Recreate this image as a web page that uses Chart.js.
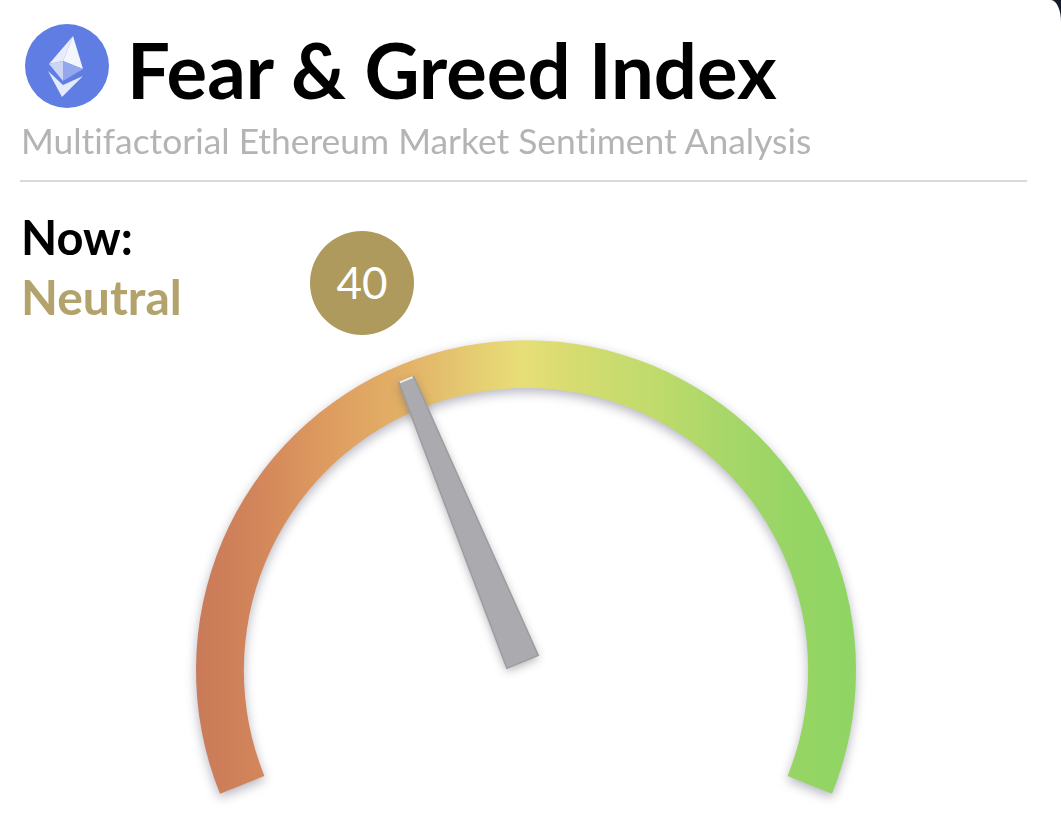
<!DOCTYPE html>
<html>
<head>
<meta charset="utf-8">
<title>Fear & Greed Index</title>
<script src="https://cdn.jsdelivr.net/npm/chart.js@4"></script>
<style>
    html, body { margin: 0; padding: 0; background: #141c2b; }
    body { width: 1061px; height: 818px; overflow: hidden; }
    .panel { position: relative; width: 1061px; height: 818px; background: #fff; border-top-right-radius: 10px 22px; font-family: Lato, sans-serif; font-variant-ligatures: none; overflow: hidden; filter: blur(0.5px); }
    .panel div { position: absolute; white-space: nowrap; }
    .icon { position: absolute; left: 25px; top: 24px; }
    .title { left: 127px; top: 25px; font-size: 76px; font-weight: 700; line-height: 90px; color: #000; }
    .subtitle { left: 21px; top: 120px; font-size: 35.4px; line-height: 42px; color: #b4b4b4; }
    .rule { left: 20px; top: 180px; width: 1007px; height: 2px; background: #d9d9d9; }
    .now { left: 21px; top: 212px; font-size: 47px; font-weight: 700; line-height: 50px; color: #000; }
    .status { left: 21px; top: 272px; font-size: 48px; font-weight: 700; line-height: 50px; color: #b2a26c; }
    .badge { left: 310px; top: 231px; width: 104px; height: 104px; border-radius: 50%; background: #ad9a5c; color: #fff; font-size: 44px; line-height: 102px; text-align: center; }
    canvas { position: absolute; left: 0; top: 0; }
</style>
</head>
<body>
<div class="panel">
    <canvas id="gauge" width="1061" height="818"></canvas>
    <svg class="icon" width="84" height="84" viewBox="0 0 84 84">
        <circle cx="42" cy="42" r="42" fill="#5f7de3"/>
        <polygon points="48,12 24,40 38,37" fill="#e8ecfb"/>
        <polygon points="48,12 38,37 58,45" fill="#f4f6fe"/>
        <polygon points="24,40 38,37 38,57" fill="#cbd5f6"/>
        <polygon points="38,37 58,45 38,57" fill="#93a7ec"/>
        <polygon points="23,47 38,61 58,52 37,73" fill="#e6ebfb"/>
    </svg>
    <div class="title" id="title"></div>
    <div class="subtitle" id="subtitle"></div>
    <div class="rule"></div>
    <div class="now" id="now"></div>
    <div class="status" id="status"></div>
    <div class="badge" id="badge"></div>
</div>
<script>
    // Chart values and texts
    const titleText = "Fear & Greed Index";
    const subtitleText = "Multifactorial Ethereum Market Sentiment Analysis";
    const nowLabel = "Now:";
    const statusLabel = "Neutral";
    const indexValue = 40;
    const indexMax = 100;
    const gaugeLabels = ["Fear to Greed"];
    const gaugeValues = [100];

    // Colours across the gauge, left to right
    const gaugeStops = [0, 0.08, 0.2, 0.31, 0.39, 0.49, 0.58, 0.7, 0.8, 0.9, 1];
    const gaugeColors = ["#c97a58", "#d1835a", "#de9c60", "#e2b066", "#e4c46f", "#e8de78", "#d4dc70", "#bfdb6c", "#a8d768", "#97d565", "#8fd564"];

    const gaugeRotation = -112;
    const gaugeSweep = 224;

    document.getElementById("title").textContent = titleText;
    document.getElementById("subtitle").textContent = subtitleText;
    document.getElementById("now").textContent = nowLabel;
    document.getElementById("status").textContent = statusLabel;
    document.getElementById("badge").textContent = indexValue;

    // Horizontal gradient over the width of the chart area
    function gaugeGradient(context) {
        const area = context.chart.chartArea;
        if (!area) {
            return gaugeColors[0];
        }
        const gradient = context.chart.ctx.createLinearGradient(area.left, 0, area.right, 0);
        gaugeStops.forEach(function(stop, i) {
            gradient.addColorStop(stop, gaugeColors[i]);
        });
        return gradient;
    }

    // Soft shadow under the arc
    const arcShadow = {
        id: "arcShadow",
        beforeDatasetDraw: function(chart) {
            chart.ctx.save();
            chart.ctx.shadowColor = "rgba(70, 70, 100, 0.4)";
            chart.ctx.shadowBlur = 11;
            chart.ctx.shadowOffsetY = 4;
        },
        afterDatasetDraw: function(chart) {
            chart.ctx.restore();
        }
    };

    // Needle angle comes from the arc and the index value
    const needle = {
        id: "needle",
        afterDatasetsDraw: function(chart) {
            const arc = chart.getDatasetMeta(0).data[0];
            const ctx = chart.ctx;
            const tip = arc.innerRadius + 32;
            ctx.save();
            ctx.translate(arc.x, arc.y);
            ctx.rotate(arc.startAngle + (arc.endAngle - arc.startAngle) * indexValue / indexMax);
            ctx.beginPath();
            ctx.moveTo(9, -17);
            ctx.lineTo(tip, -8);
            ctx.lineTo(tip, 8);
            ctx.lineTo(9, 17);
            ctx.closePath();
            ctx.shadowColor = "rgba(60, 60, 70, 0.4)";
            ctx.shadowBlur = 10;
            ctx.shadowOffsetY = 3;
            ctx.fillStyle = "#aaaaaf";
            ctx.fill();
            ctx.shadowColor = "transparent";
            ctx.strokeStyle = "#9c9ca1";
            ctx.lineWidth = 1.5;
            ctx.stroke();
            // light edge at the tip
            ctx.beginPath();
            ctx.moveTo(tip, -7);
            ctx.lineTo(tip, 7);
            ctx.strokeStyle = "#eeeeee";
            ctx.lineWidth = 2;
            ctx.stroke();
            ctx.restore();
        }
    };

    new Chart(document.getElementById("gauge").getContext("2d"), {
        type: "doughnut",
        data: {
            labels: gaugeLabels,
            datasets: [{
                data: gaugeValues,
                backgroundColor: gaugeGradient,
                borderWidth: 0
            }]
        },
        options: {
            responsive: false,
            animation: false,
            rotation: gaugeRotation,
            circumference: gaugeSweep,
            cutout: "85.5%",
            layout: { padding: { left: 196, right: 205, top: 340, bottom: 24 } },
            plugins: {
                legend: { display: false },
                tooltip: { enabled: false }
            }
        },
        plugins: [arcShadow, needle]
    });
</script>
</body>
</html>
